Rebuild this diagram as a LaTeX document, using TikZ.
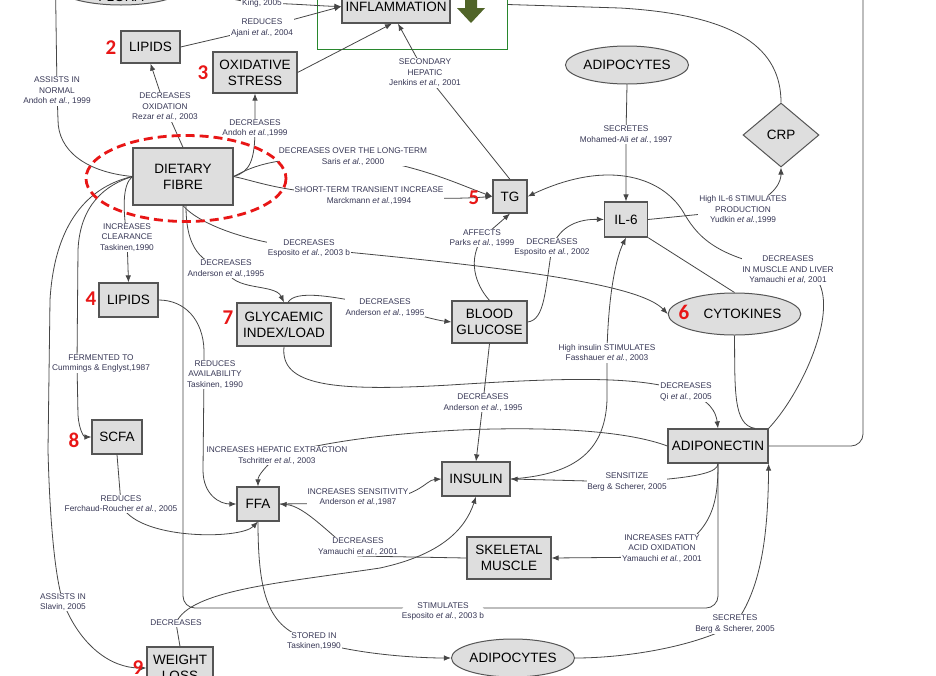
\documentclass[tikz,border=0pt]{standalone}
\usepackage{fontspec}
\setmainfont{Liberation Sans}
\newfontfamily\numfam{Carlito}
\usetikzlibrary{arrows.meta,shapes.geometric}
\definecolor{boxfill}{RGB}{222,222,222}
\definecolor{boxline}{RGB}{85,85,85}
\definecolor{linecol}{RGB}{70,70,70}
\definecolor{labcol}{RGB}{55,55,85}
\definecolor{numred}{RGB}{232,22,22}
\definecolor{frgreen}{RGB}{40,135,45}
\definecolor{olivegr}{RGB}{80,100,40}
\newcommand{\bxfont}{\fontsize{13.5}{16}\selectfont}
\newcommand{\lbfont}{\fontsize{8.3}{10.5}\selectfont}
\newcommand{\nmfont}{\numfam\bfseries\fontsize{21}{21}\selectfont}
\begin{document}
\begin{tikzpicture}[x=1pt,y=-1pt,
  box/.style={draw=boxline, fill=boxfill, line width=1.2pt, inner sep=0pt, align=center, font=\bxfont, text=black},
  ell/.style={ellipse, draw=boxline, fill=boxfill, line width=1pt, inner sep=0pt, align=center, font=\bxfont, text=black},
  lab/.style={fill=white, inner sep=0.8pt, align=center, font=\lbfont, text=labcol},
  conn/.style={draw=linecol, line width=0.8pt},
  arr/.style={conn, -{Latex[length=7pt,width=5.5pt]}},
  num/.style={text=numred, font=\nmfont, inner sep=0pt}]
\useasboundingbox (0,0) rectangle (936,675);
\fill[white] (0,0) rectangle (936,675);
\clip (0,0) rectangle (936,675);

% frame and big arrow
\node[draw=frgreen, line width=1pt, minimum width=190pt, minimum height=89pt, inner sep=0pt] (grn) at (412,4.5) {};
\fill[olivegr] (465,-20) -- (477,-20) -- (477,8) -- (485,8) -- (471,23) -- (457,8) -- (465,8) -- cycle;

% nodes
\node[ell, minimum width=130pt, minimum height=38pt] (flora) at (121,-14) {};
\node[font=\bxfont, inner sep=0pt] (floratxt) at (121,-3) {FLORA};
\node[box, minimum width=108pt, minimum height=33pt] (infl) at (396,6.5) {INFLAMMATION};
\node[box, minimum width=59pt, minimum height=32pt] (lipids2) at (150.5,47) {LIPIDS};
\node[box, minimum width=84pt, minimum height=41pt] (oxid) at (255,72.5) {OXIDATIVE\\STRESS};
\node[box, minimum width=100pt, minimum height=57pt] (dietary) at (183,176.5) {DIETARY\\FIBRE};
\node[box, minimum width=34pt, minimum height=33pt] (tg) at (510,196.5) {TG};
\node[ell, minimum width=117pt, minimum height=38pt] (adipT) at (627,65) {ADIPOCYTES};
\node[diamond, draw=boxline, fill=boxfill, line width=1pt, inner sep=0pt, minimum width=76pt, minimum height=64pt, font=\bxfont] (crp) at (781,135) {CRP};
\node[box, minimum width=43pt, minimum height=35pt] (il6) at (626,219.5) {IL-6};
\node[box, minimum width=75pt, minimum height=42pt] (bg) at (489.5,322) {BLOOD\\GLUCOSE};
\node[box, minimum width=94pt, minimum height=43pt] (glyc) at (284,324.5) {GLYCAEMIC\\INDEX/LOAD};
\node[ell, minimum width=117pt, minimum height=42pt] (cyto) at (734.5,314) {\hspace{16pt}CYTOKINES};
\node[box, minimum width=59pt, minimum height=34pt] (lipids4) at (128.5,300) {LIPIDS};
\node[box, minimum width=50pt, minimum height=34pt] (scfa) at (117,437) {SCFA};
\node[box, minimum width=100pt, minimum height=34pt] (adipo) at (718,446) {ADIPONECTIN};
\node[box, minimum width=68pt, minimum height=34pt] (insulin) at (476,479) {INSULIN};
\node[box, minimum width=42pt, minimum height=34pt] (ffa) at (258,504) {FFA};
\node[box, minimum width=84pt, minimum height=42pt] (sm) at (509,558) {SKELETAL\\MUSCLE};
\node[ell, minimum width=118pt, minimum height=38pt] (adipB) at (513,658) {ADIPOCYTES};
\node[box, minimum width=66pt, minimum height=42pt] (weight) at (180,668) {WEIGHT\\LOSS};

% connectors
\draw[conn] (dietary.west) .. controls (85,172) and (58,150) .. (58,120) -- (57,91) node[lab]{ASSISTS IN\\NORMAL\\Andoh \textit{et al.}, 1999} -- (flora.west);
\draw[arr] (flora.east) .. controls (215,-6) and (235,2) .. (262,3) node[lab]{King, 2005} .. controls (300,4) and (320,6) .. (infl.west);
\draw[arr] (lipids2.east) -- (262,28) node[lab]{REDUCES\\Ajani \textit{et al.}, 2004} -- (infl.west);
\draw[arr] (oxid.east) -- ([xshift=-4pt]infl.south);
\draw[arr] (tg.north) -- (425,73) node[lab]{SECONDARY\\HEPATIC\\Jenkins \textit{et al.}, 2001} -- ([xshift=2pt]infl.south);
\draw[arr] (dietary.north) -- (165,107) node[lab]{DECREASES\\OXIDATION\\Rezar \textit{et al.}, 2003} -- (lipids2.south);
\draw[arr] (dietary.east) .. controls (250,172) and (255,160) .. (255,128) node[lab]{DECREASES\\Andoh \textit{et al.},1999} -- (oxid.south);
\draw[arr] (dietary.east) .. controls (255,165) and (275,157) .. (353,156.5) node[lab]{DECREASES OVER THE LONG-TERM\\Saris \textit{et al.}, 2000} .. controls (420,165) and (460,185) .. (tg.west);
\draw[arr] (dietary.east) .. controls (260,182) and (285,194) .. (369,195.5) node[lab]{SHORT-TERM TRANSIENT INCREASE\\Marckmann \textit{et al.},1994} .. controls (440,200) and (470,198) .. (tg.west);
\draw[arr] (dietary.south) .. controls (200,225) and (250,243) .. (309,248.5) node[lab]{DECREASES\\Esposito \textit{et al.}, 2003 b} .. controls (520,268) and (640,285) .. (cyto.west);
\draw[arr] ([xshift=3pt]dietary.south) .. controls (186,240) and (195,262) .. (226,268.5) node[lab]{DECREASES\\Anderson \textit{et al.},1995} .. controls (232,292) and (275,283) .. (glyc.north);
\draw[arr] ([xshift=4pt]glyc.north) .. controls (295,290) and (330,295) .. (385,307.5) node[lab]{DECREASES\\Anderson \textit{et al.}, 1995} .. controls (420,315) and (435,320) .. (bg.west);
\draw[arr] (glyc.south) .. controls (280,385) and (330,392) .. (450,385) .. controls (560,378) and (640,375) .. (686,392) node[lab]{DECREASES\\Qi \textit{et al.}, 2005} .. controls (710,400) and (716,412) .. (adipo.north);
\draw[arr] (bg.north) .. controls (480,290) and (465,265) .. (482,238) node[lab]{AFFECTS\\Parks \textit{et al.}, 1999} -- (tg.south);
\draw[arr] (bg.east) .. controls (545,320) and (545,290) .. (552,247.5) node[lab]{DECREASES\\Esposito \textit{et al.}, 2002} .. controls (560,225) and (580,219) .. (il6.west);
\draw[arr] (bg.south) -- (483,402.5) node[lab]{DECREASES\\Anderson \textit{et al.}, 1995} -- (insulin.north);
\draw[arr] (insulin.east) .. controls (570,475) and (605,455) .. (607,400) -- (607,353) node[lab]{High insulin STIMULATES\\Fasshauer \textit{et al.}, 2003} .. controls (608,300) and (615,260) .. (il6.south);
\draw[arr] (adipT.south) -- (626,134.5) node[lab]{SECRETES\\Mohamed-Ali \textit{et al.}, 1997} -- (il6.north);
\draw[arr] (il6.east) -- (743,210) node[lab]{High IL-6 STIMULATES\\PRODUCTION\\Yudkin \textit{et al.},1999} .. controls (778,195) and (781,180) .. (crp.south);
\draw[arr] (adipo.north east) .. controls (800,395) and (835,320) .. (820,285) -- (788,270) node[lab]{DECREASES\\IN MUSCLE AND LIVER\\Yamauchi \textit{et al}, 2001} .. controls (720,258) and (700,240) .. (685,215) .. controls (665,178) and (610,158) .. (tg.east);
\draw[conn] (il6.south east) -- (cyto.north);
\draw[conn] (cyto.south) .. controls (735,390) and (733,425) .. ([xshift=37pt]adipo.north);
\draw[conn, rounded corners=12pt] (adipo.east) -- (863,446) -- (863,-30) -| (infl.north);
\draw[conn] (crp.north) .. controls (781,50) and (740,15) .. (620,8) -- (grn.east);
\draw[arr] (dietary.west) .. controls (122,185) and (123,210) .. (127,237.5) node[lab]{INCREASES\\CLEARANCE\\Taskinen,1990} -- (lipids4.north);
\draw[arr] (dietary.west) .. controls (105,185) and (80,205) .. (78,250) -- (77,363.5) node[lab, xshift=24pt]{FERMENTED TO\\Cummings \& Englyst,1987} -- (78,415) .. controls (79,430) and (84,437) .. (scfa.west);
\draw[arr] (dietary.west) .. controls (95,185) and (55,215) .. (50,300) -- (48,450) .. controls (50,530) and (56,580) .. (63,602) node[lab]{ASSISTS IN\\Slavin, 2005} .. controls (80,645) and (110,668) .. (weight.west);
\draw[arr] (lipids4.east) .. controls (185,300) and (203,320) .. (204,350) -- (204,374.5) node[lab, xshift=11pt]{REDUCES\\AVAILABILITY\\Taskinen, 1990} -- (203,470) .. controls (203,495) and (220,504) .. (ffa.west);
\draw[arr] (adipo.west) .. controls (630,432) and (560,426) .. (460,430) .. controls (400,433) and (330,440) .. (277,455.5) node[lab]{INCREASES HEPATIC EXTRACTION\\Tschritter \textit{et al.}, 2003} .. controls (265,468) and (258,475) .. (ffa.north);
\draw[arr] (adipo.south) .. controls (718,472) and (700,478) .. (627,482) node[lab]{SENSITIZE\\Berg \& Scherer, 2005} -- (insulin.east);
\draw[arr] (adipo.south) .. controls (718,505) and (712,535) .. (662,557) node[lab, yshift=8.5pt]{INCREASES FATTY\\ACID OXIDATION\\Yamauchi \textit{et al.}, 2001} -- (sm.east);
\draw[conn, rounded corners=12pt] (dietary.south) -- (183,608) -- (443,608) node[lab, yshift=-3.5pt]{STIMULATES\\Esposito \textit{et al.}, 2003 b} -- (718,608) -- (adipo.south);
\draw[arr] (sm.west) -- (358,556) node[lab, yshift=9.5pt]{DECREASES\\Yamauchi \textit{et al.}, 2001} .. controls (330,535) and (305,506) .. (ffa.east);
\draw[arr] (ffa.east) -- (358,503) node[lab, yshift=6pt]{INCREASES SENSITIVITY\\Anderson \textit{et al.},1987} .. controls (420,500) and (425,480) .. (insulin.west);
\draw[arr] (scfa.south) -- (121,504) node[lab]{REDUCES\\Ferchaud-Roucher \textit{et al.}, 2005} .. controls (135,540) and (240,540) .. (ffa.south);
\draw[arr] (ffa.south) .. controls (258,600) and (270,630) .. (314,641) node[lab]{STORED IN\\Taskinen,1990} .. controls (360,655) and (420,658) .. (adipB.west);
\draw[arr] (adipB.east) .. controls (630,658) and (700,645) .. (735,624) node[lab]{SECRETES\\Berg \& Scherer, 2005} .. controls (760,590) and (768,540) .. (adipo.south east);
\draw[arr] (weight.north) -- (176,623) node[lab]{DECREASES} .. controls (190,590) and (280,583) .. (380,568) .. controls (440,555) and (465,530) .. (insulin.south);

% highlight and numbers
\draw[numred, line width=2.8pt, dash pattern=on 9pt off 5pt] (186,178.5) ellipse [x radius=100, y radius=43];
\node[num] (n2) at (111,48) {2};
\node[num] (n3) at (203,73) {3};
\node[num] (n4) at (91,299) {4};
\node[num] (n5) at (474,198) {5};
\node[num] (n6) at (684,312) {6};
\node[num] (n7) at (228,318) {7};
\node[num] (n8) at (74,440) {8};
\node[num] (n9) at (138,668) {9};
\end{tikzpicture}
\end{document}
